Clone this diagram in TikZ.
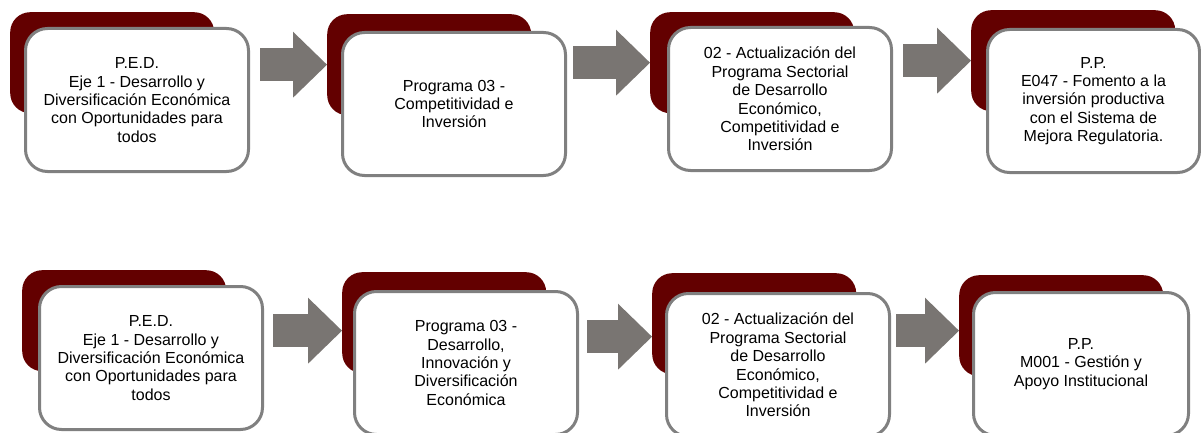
\documentclass[tikz,border=0pt]{standalone}
\usepackage{fontspec}
\setmainfont{Liberation Sans}
\usetikzlibrary{arrows.meta,calc}
\definecolor{guinda}{RGB}{99,0,0}
\definecolor{gris}{RGB}{121,117,114}
\definecolor{borde}{RGB}{128,128,128}
\tikzset{
  fondo/.style={fill=guinda, rounded corners=20pt, minimum width=204pt, minimum height=101pt, anchor=north west, inner sep=0pt},
  caja/.style={fill=white, draw=borde, line width=3pt, rounded corners=22pt, minimum width=223pt, minimum height=143pt, anchor=north west, align=center, inner sep=2pt, font=\fontsize{16}{18.4}\selectfont},
  flecha/.style={draw=gris, line width=33pt, -{Triangle[length=34pt,width=66pt,line width=0pt]}}
}
\begin{document}
\begin{tikzpicture}[x=1pt,y=-1pt]
    \useasboundingbox (0,0) rectangle (1201,433);
    \node[fondo] (b1) at (10,12) {};
    \node[caja] (c1) at (24,27) {P.E.D.\\Eje 1 - Desarrollo y\\Diversificación Económica\\con Oportunidades para\\todos};
    \node[fondo] (b2) at (327,14) {};
    \node[caja] (c2) at (341,31) {Programa 03 -\\Competitividad e\\Inversión};
    \node[fondo] (b3) at (650,12) {};
    \node[caja] (c3) at (667,26) {02 - Actualización del\\Programa Sectorial\\de Desarrollo\\Económico,\\Competitividad e\\Inversión};
    \node[fondo] (b4) at (971,10) {};
    \node[caja, minimum width=212pt] (c4) at (986,28) {P.P.\\E047 - Fomento a la\\inversión productiva\\con el Sistema de\\Mejora Regulatoria.};
    \draw[flecha] ($(c1.east |- b2.west)+(10,0)$) -- (b2.west);
    \draw[flecha] ($(c2.east |- b3.west)+(6,0)$) -- (b3.west);
    \draw[flecha] ($(c3.east |- b4.west)+(10,0)$) -- (b4.west);
    \node[fondo] (b5) at (22,270) {};
    \node[caja] (c5) at (38,285) {P.E.D.\\Eje 1 - Desarrollo y\\Diversificación Económica\\con Oportunidades para\\todos};
    \node[fondo] (b6) at (342,272) {};
    \node[caja] (c6) at (353,290) {Programa 03 -\\Desarrollo,\\Innovación y\\Diversificación\\Económica};
    \node[fondo] (b7) at (652,273) {};
    \node[caja] (c7) at (665,292) {02 - Actualización del\\Programa Sectorial\\de Desarrollo\\Económico,\\Competitividad e\\Inversión};
    \node[fondo] (b8) at (959,275) {};
    \node[caja, minimum width=215pt] (c8) at (972,291) {P.P.\\M001 - Gestión y\\Apoyo Institucional};
    \draw[flecha] ($(c5.east |- b6.west)+(9,8)$) -- ($(b6.west)+(0,8)$);
    \draw[flecha] ($(c6.east |- b7.west)+(8,13)$) -- ($(b7.west)+(0,13)$);
    \draw[flecha] ($(c7.east |- b8.west)+(5,5)$) -- ($(b8.west)+(0,5)$);
\end{tikzpicture}
\end{document}
